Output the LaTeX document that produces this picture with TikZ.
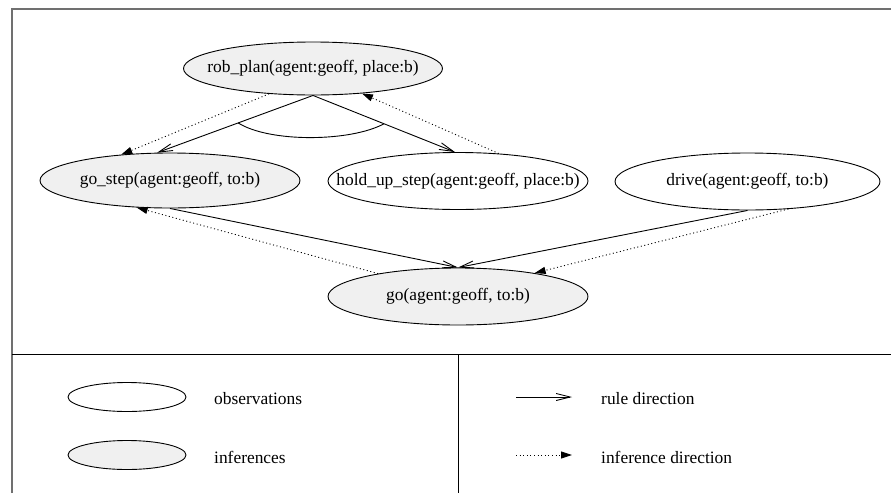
\documentclass[tikz,border=0pt]{standalone}
\usepackage{fontspec}
\setmainfont{Liberation Serif}
\usetikzlibrary{arrows.meta,shapes.geometric,calc}
\definecolor{infill}{HTML}{F0F0F0}
\definecolor{framegray}{HTML}{707070}
% zero-width box so the ellipse size comes only from its minimum width/height
\newcommand\factlabel[1]{\makebox[0pt]{#1}}
\begin{document}
\begin{tikzpicture}[x=1pt,y=-1pt,
  every node/.style={font=\fontsize{17.4}{20}\selectfont},
  fact/.style={ellipse,draw,line width=0.9pt,inner sep=0pt,minimum width=260pt,minimum height=56pt},
  observed/.style={fact,fill=white},
  inferred/.style={fact,fill=infill},
  legendtext/.style={anchor=west,inner sep=0pt},
  rule/.style={draw,line width=0.9pt,-{Straight Barb[length=14pt,width=7pt]}},
  infer/.style={draw,line width=0.9pt,dash pattern=on 1pt off 2.6pt,-{Triangle[length=11pt,width=7pt]}},
]
\useasboundingbox (0,0) rectangle (891,493);

% frame and legend dividers
\draw[framegray,line width=1.5pt] (12,493) -- (12,9) -- (891,9);
\draw[line width=1pt] (12,354) -- (891,354);
\draw[line width=1pt] (458,354) -- (458,493);

% facts
\node[inferred,minimum width=259pt,minimum height=53pt] (rp) at (313,68.5) {\factlabel{rob\_plan(agent:geoff, place:b)}};
\node[inferred,minimum height=55pt] (gs) at (170,180.5) {\factlabel{go\_step(agent:geoff, to:b)}};
\node[observed,minimum height=57pt] (hs) at (458,181) {\factlabel{hold\_up\_step(agent:geoff, place:b)}};
\node[observed,minimum width=265pt,minimum height=57pt] (dr) at (747.5,181.5) {\factlabel{drive(agent:geoff, to:b)}};
\node[inferred,minimum height=57pt] (go) at (458,296.5) {\factlabel{go(agent:geoff, to:b)}};

% rules
\draw[rule] (rp.south) -- (gs.115);
\draw[rule] (rp.south) -- (hs.96);
\coordinate (andl) at ($(rp.south)!0.48!(gs.115)$);
\coordinate (andr) at ($(rp.south)!0.5!(hs.96)$);
\draw[line width=0.9pt] (andl) .. controls ($(andl)+(32,20)$) and ($(andr)+(-33,18)$) .. (andr);
\draw[rule] (gs.south) -- (go.north);
\draw[rule] (dr.south) -- (go.north);

% inferences
\draw[infer] (rp.210) -- (gs.152);
\draw[infer] (hs.34) -- (rp.333);
\draw[infer] (go.164) -- (gs.219);
\draw[infer] (dr.326) -- (go.17);

% legend
\node[observed,minimum width=118pt,minimum height=29pt] (lo) at (127,397) {};
\node[inferred,minimum width=118pt,minimum height=29pt] (li) at (127,455) {};
\node[legendtext] (lot) at (214,399) {observations};
\node[legendtext] (lit) at (214,457) {inferences};
\coordinate (ra) at (516,397);
\coordinate (rb) at (572,397);
\draw[rule] (ra) -- (rb);
\coordinate (ia) at (516,455);
\coordinate (ib) at (572,455);
\draw[infer] (ia) -- (ib);
\node[legendtext] (rt) at (601,399) {rule direction};
\node[legendtext] (it) at (601,457) {inference direction};
\end{tikzpicture}
\end{document}
